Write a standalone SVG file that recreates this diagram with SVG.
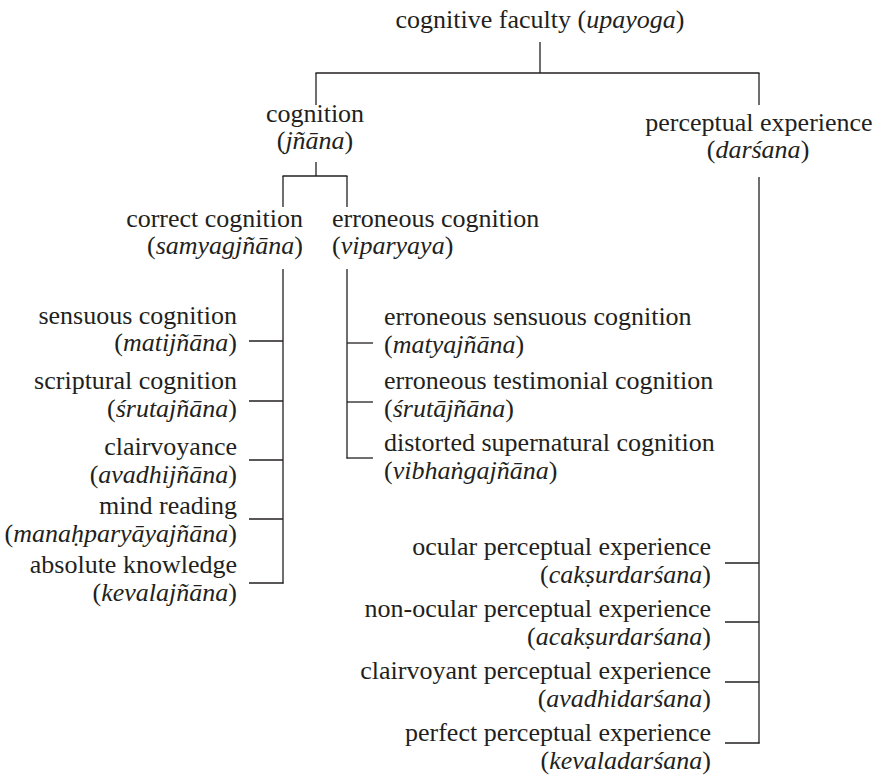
<svg xmlns="http://www.w3.org/2000/svg" width="876" height="779" viewBox="0 0 876 779">
<style>
text{font-family:'Liberation Serif',serif;font-size:26px;fill:#231f20}
.i{font-style:italic}
.e{text-anchor:end}
.m{text-anchor:middle}
.s{text-anchor:start}
.c line{stroke:#231f20;stroke-width:1.3;fill:none}
</style>
<rect width="876" height="779" fill="#fff"/>
<g id="connectors" class="c">
<line x1="540" y1="42" x2="540" y2="73"/>
<line x1="315.5" y1="73" x2="759.5" y2="73"/>
<line x1="316" y1="73" x2="316" y2="105"/>
<line x1="759" y1="73" x2="759" y2="105"/>
<line x1="316" y1="162" x2="316" y2="176"/>
<line x1="282.5" y1="176" x2="347.5" y2="176"/>
<line x1="283" y1="176" x2="283" y2="207"/>
<line x1="347" y1="176" x2="347" y2="207"/>
<line x1="283" y1="269" x2="283" y2="583.5"/>
<line x1="249" y1="341" x2="283" y2="341"/>
<line x1="249" y1="401" x2="283" y2="401"/>
<line x1="249" y1="460" x2="283" y2="460"/>
<line x1="249" y1="519" x2="283" y2="519"/>
<line x1="249" y1="583" x2="283.5" y2="583"/>
<line x1="347" y1="269" x2="347" y2="458.5"/>
<line x1="347" y1="343" x2="373" y2="343"/>
<line x1="347" y1="402" x2="373" y2="402"/>
<line x1="346.5" y1="458" x2="373" y2="458"/>
<line x1="759" y1="177" x2="759" y2="743.5"/>
<line x1="725" y1="563" x2="759" y2="563"/>
<line x1="725" y1="622" x2="759" y2="622"/>
<line x1="725" y1="682" x2="759" y2="682"/>
<line x1="725" y1="743" x2="759.5" y2="743"/>
</g>
<g id="upayoga"><text class="m" x="540" y="28">cognitive faculty (<tspan class="i">upayoga</tspan>)</text></g>
<g id="jnana"><text class="m" x="315" y="122">cognition</text><text class="m" x="315" y="149">(<tspan class="i">jñāna</tspan>)</text></g>
<g id="darsana"><text class="m" x="759" y="131">perceptual experience</text><text class="m" x="758" y="158">(<tspan class="i">darśana</tspan>)</text></g>
<g id="samyagjnana"><text class="e" x="303" y="227">correct cognition</text><text class="e" x="303" y="254">(<tspan class="i">samyagjñāna</tspan>)</text></g>
<g id="viparyaya"><text class="s" x="332" y="227">erroneous cognition</text><text class="s" x="332" y="254">(<tspan class="i">viparyaya</tspan>)</text></g>
<g id="matijnana"><text class="e" x="237" y="324">sensuous cognition</text><text class="e" x="237" y="351">(<tspan class="i">matijñāna</tspan>)</text></g>
<g id="srutajnana"><text class="e" x="237" y="389">scriptural cognition</text><text class="e" x="237" y="417">(<tspan class="i">śrutajñāna</tspan>)</text></g>
<g id="avadhijnana"><text class="e" x="237" y="455">clairvoyance</text><text class="e" x="237" y="483">(<tspan class="i">avadhijñāna</tspan>)</text></g>
<g id="manahparyayajnana"><text class="e" x="237" y="514">mind reading</text><text class="e" x="237" y="542">(<tspan class="i">manaḥparyāyajñāna</tspan>)</text></g>
<g id="kevalajnana"><text class="e" x="237" y="573">absolute knowledge</text><text class="e" x="237" y="601">(<tspan class="i">kevalajñāna</tspan>)</text></g>
<g id="matyajnana"><text class="s" x="384" y="325">erroneous sensuous cognition</text><text class="s" x="384" y="353">(<tspan class="i">matyajñāna</tspan>)</text></g>
<g id="srutajnana2"><text class="s" x="384" y="389">erroneous testimonial cognition</text><text class="s" x="384" y="417">(<tspan class="i">śrutājñāna</tspan>)</text></g>
<g id="vibhangajnana"><text class="s" x="384" y="451">distorted supernatural cognition</text><text class="s" x="384" y="479">(<tspan class="i">vibhaṅgajñāna</tspan>)</text></g>
<g id="caksurdarsana"><text class="e" x="711" y="555">ocular perceptual experience</text><text class="e" x="711" y="583">(<tspan class="i">cakṣurdarśana</tspan>)</text></g>
<g id="acaksurdarsana"><text class="e" x="711" y="617">non-ocular perceptual experience</text><text class="e" x="711" y="645">(<tspan class="i">acakṣurdarśana</tspan>)</text></g>
<g id="avadhidarsana"><text class="e" x="711" y="679">clairvoyant perceptual experience</text><text class="e" x="711" y="707">(<tspan class="i">avadhidarśana</tspan>)</text></g>
<g id="kevaladarsana"><text class="e" x="711" y="741">perfect perceptual experience</text><text class="e" x="711" y="769">(<tspan class="i">kevaladarśana</tspan>)</text></g>
</svg>
